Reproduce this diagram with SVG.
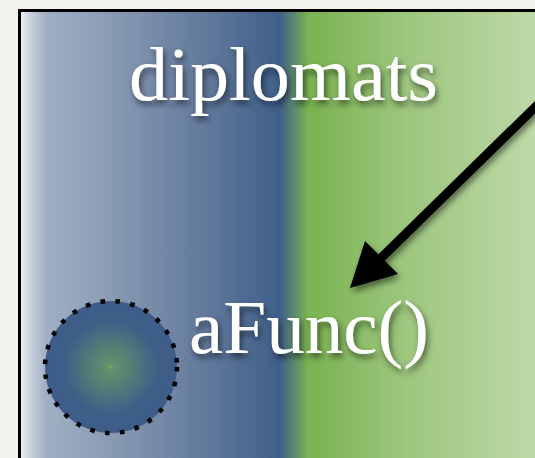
<svg xmlns="http://www.w3.org/2000/svg" width="535" height="458" viewBox="0 0 535 458">
<style>
.lbl{font-family:"Liberation Serif","Times New Roman",serif;font-size:76px;fill:#ffffff;filter:url(#tsh)}
.conn{stroke:#000;stroke-width:9;fill:none}
</style>
<defs>
<linearGradient id="bg" gradientUnits="userSpaceOnUse" x1="20" y1="0" x2="535" y2="0">
<stop offset="0" stop-color="#f0f2f6"/>
<stop offset="0.02" stop-color="#c9d2de"/>
<stop offset="0.05" stop-color="#a0aec2"/>
<stop offset="0.16" stop-color="#8c9eb6"/>
<stop offset="0.36" stop-color="#62799c"/>
<stop offset="0.505" stop-color="#3f5f8a"/>
<stop offset="0.56" stop-color="#7ab350"/>
<stop offset="0.75" stop-color="#9dc67e"/>
<stop offset="1" stop-color="#bdd9a7"/>
</linearGradient>
<radialGradient id="cg" cx="111" cy="367" r="66" gradientUnits="userSpaceOnUse">
<stop offset="0" stop-color="#78b050"/>
<stop offset="0.04" stop-color="#62926a"/>
<stop offset="0.35" stop-color="#537c78"/>
<stop offset="0.7" stop-color="#3f5f88"/>
<stop offset="1" stop-color="#3d5c88"/>
</radialGradient>
<filter id="tsh" x="-10%" y="-20%" width="120%" height="150%">
<feDropShadow dx="2" dy="4" stdDeviation="3" flood-color="#000" flood-opacity="0.55"/>
</filter>
<filter id="ash" x="-20%" y="-20%" width="140%" height="140%">
<feDropShadow dx="2" dy="4" stdDeviation="3" flood-color="#000" flood-opacity="0.5"/>
</filter>
</defs>
<rect width="535" height="458" fill="#f4f2ee"/>
<rect x="19.5" y="10.5" width="530" height="460" fill="url(#bg)" stroke="#000" stroke-width="3"/>
<g id="node-diplomats">
<text class="lbl" x="129" y="100" textLength="309" lengthAdjust="spacingAndGlyphs">diplomats</text>
</g>
<g id="node-circle">
<circle cx="111" cy="367" r="66" fill="url(#cg)" stroke="#000" stroke-width="4.5" stroke-dasharray="4.5 10.5"/>
</g>
<g id="node-afunc">
<text class="lbl" x="189" y="353" textLength="240" lengthAdjust="spacingAndGlyphs">aFunc()</text>
</g>
<g id="connectors" filter="url(#ash)">
<line class="conn" x1="570" y1="73" x2="378" y2="261"/>
<polygon points="350,288 365,241 398,274" fill="#000"/>
</g>
</svg>
